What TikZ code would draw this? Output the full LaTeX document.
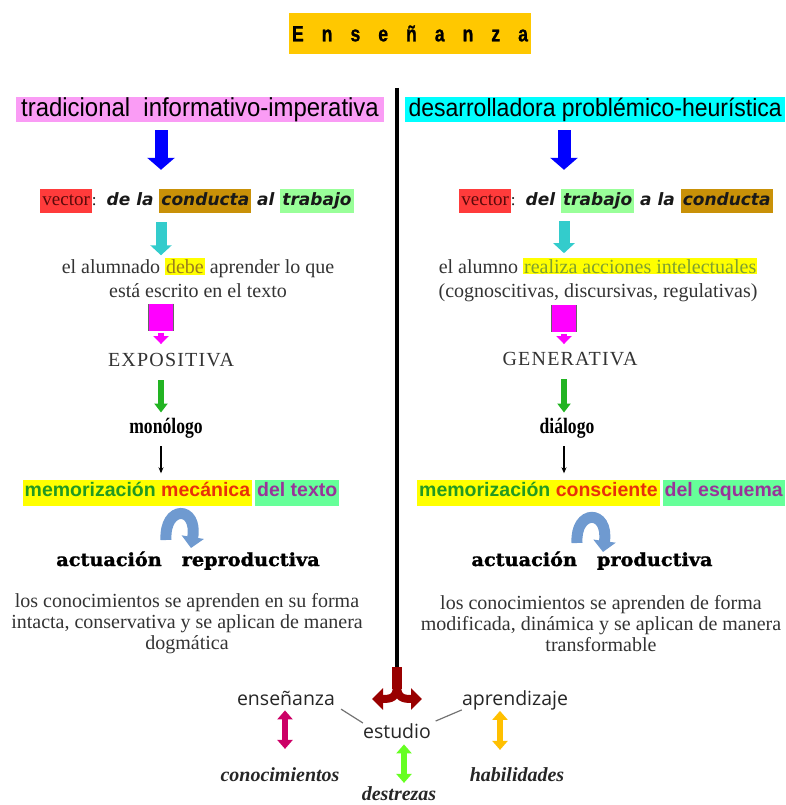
\documentclass[tikz,border=0pt]{standalone}
\usepackage{fontspec}
\setmainfont{Liberation Serif}
\newfontfamily\titulofont[FakeStretch=0.8,FakeBold=1]{Liberation Sans}
\newfontfamily\estrecha[FakeStretch=0.92]{Liberation Sans}
\newfontfamily\arial{Liberation Sans}
\newfontfamily\comica{DejaVu Sans}
\newfontfamily\gruesa[FakeBold=1.5,FakeStretch=1.07]{DejaVu Serif}
\newfontfamily\cartel[FakeStretch=0.8]{Liberation Serif}
\newfontfamily\versal[LetterSpace=6]{Liberation Serif}
\newfontfamily\redonda{Open Sans}
\usetikzlibrary{arrows.meta,positioning,calc}

\definecolor{oro}{HTML}{FFC800}
\definecolor{rosa}{HTML}{FA9CF5}
\definecolor{celeste}{HTML}{00FFFF}
\definecolor{rojo}{HTML}{FF3B3B}
\definecolor{vino}{HTML}{5A0A0A}
\definecolor{ocre}{HTML}{C99108}
\definecolor{verdeclaro}{HTML}{99FF99}
\definecolor{amarillo}{HTML}{FFFF00}
\definecolor{oliva}{HTML}{9B7E1E}
\definecolor{olivaverde}{HTML}{7FA030}
\definecolor{verdeosc}{HTML}{229922}
\definecolor{rojovivo}{HTML}{E8300A}
\definecolor{morado}{HTML}{993399}
\definecolor{verdeagua}{HTML}{66FF99}
\definecolor{azulflecha}{HTML}{0000FF}
\definecolor{turquesa}{HTML}{33CCCC}
\definecolor{fucsia}{HTML}{FF00FF}
\definecolor{verdeflecha}{HTML}{22B422}
\definecolor{acero}{HTML}{6F9AD0}
\definecolor{granate}{HTML}{990000}
\definecolor{carmin}{HTML}{CC0066}
\definecolor{lima}{HTML}{66FF22}
\definecolor{dorado}{HTML}{FFC000}
\definecolor{tinta}{HTML}{333333}

\newcommand{\fsz}[2]{\fontsize{#1}{#2}\selectfont}
\newcommand{\marca}[2]{{\setlength{\fboxsep}{2pt}\colorbox{#1}{\strut #2}}}
\newcommand{\resalto}[2]{{\setlength{\fboxsep}{1pt}\colorbox{#1}{#2}}}
\newcommand{\recto}{\rmfamily\upshape\mdseries}

\tikzset{
  cabecera/.style={inner sep=0pt, minimum height=25pt, font=\estrecha\fsz{26}{28}},
  vectorlinea/.style={inner sep=0pt, font=\comica\bfseries\itshape\fsz{17}{20}, text=black!90},
  cuerpo/.style={inner sep=0pt, align=center, text=tinta, font=\fsz{20}{24}},
  parrafo/.style={cuerpo, font=\fsz{20}{21}},
  modo/.style={inner sep=0pt, anchor=base, text=tinta, font=\versal\fsz{20}{22}},
  dialogo/.style={inner sep=0pt, anchor=base, font=\cartel\bfseries\fsz{22}{24}},
  memoria/.style={inner sep=0pt, font=\arial\bfseries\fsz{19.5}{22}},
  actuacion/.style={inner sep=0pt, anchor=base, font=\gruesa\bfseries\fsz{18}{22}},
  rotulo/.style={inner sep=0pt, anchor=base, text=black!85, font=\redonda\fsz{19.5}{22}},
  saber/.style={inner sep=0pt, anchor=base, text=black!85, font=\bfseries\itshape\fsz{20}{22}},
  azulf/.style={line width=13pt, azulflecha, -{Triangle[width=27pt,length=12pt]}},
  turqf/.style={line width=11pt, turquesa, -{Triangle[width=21pt,length=10pt]}},
  fucsiaf/.style={line width=24pt, fucsia, preaction={draw=black!60, line width=26pt}},
  fucsiapunta/.style={line width=6pt, fucsia, -{Triangle[width=15pt,length=8pt]}},
  verdef/.style={line width=6pt, verdeflecha, -{Triangle[width=13pt,length=9pt]}},
  negraf/.style={line width=1.3pt, black, -{Stealth[width=5pt,length=6pt]}},
  curva/.style={line width=11pt, acero, -{Triangle[width=22pt,length=11pt]}},
  tridente/.style={line width=8pt, granate, -{Triangle[width=21pt,length=11pt]}},
  doble/.style={line width=6pt, {Triangle[width=15pt,length=9pt]}-{Triangle[width=15pt,length=9pt]}},
  enlace/.style={draw=black!55, line width=1.2pt}
}

\begin{document}
\begin{tikzpicture}[x=1pt, y=-1pt]
\useasboundingbox (0,0) rectangle (785,805);

\node[fill=oro, minimum width=242pt, minimum height=41pt, inner sep=0pt] (titulo) at (410,33.5)
  {\titulofont\bfseries\fsz{22}{26}E\hspace{18pt}n\hspace{18pt}s\hspace{18pt}e\hspace{18pt}ñ\hspace{18pt}a\hspace{18pt}n\hspace{18pt}z\hspace{18pt}a};

% divisoria
\coordinate (arriba) at (397,88);
\coordinate (horca) at (397,667);
\draw[line width=4pt] (arriba) -- (horca);

% columnas de flechas
\coordinate (cL) at (161,0);
\coordinate (cR) at (564,0);

% izquierda
\node[cabecera, fill=rosa, minimum width=368pt] (hdrL) at (200,109.5) {tradicional\ \ informativo-imperativa};
\node[vectorlinea] (vecL) at (197,201)
  {\marca{rojo}{\recto\fsz{19}{20}\color{vino}vector}{\recto :}\hspace{10pt}de la \marca{ocre}{conducta} al \marca{verdeclaro}{trabajo}};
\node[cuerpo] (txtL) at (198,278) {el alumnado \resalto{amarillo}{\color{oliva}debe} aprender lo que\\está escrito en el texto};
\node[modo] (modoL) at (171,366.5) {EXPOSITIVA};
\node[dialogo] (dialL) at (166,433) {monólogo};
\node[memoria] (memL) at (181,492.5)
  {\marca{amarillo}{\color{verdeosc}memorización \color{rojovivo}mecánica}\hspace{3pt}\marca{verdeagua}{\color{morado}del texto}};
\node[actuacion] (actL) at (188,566) {actuación\hspace{20pt}reproductiva};
\node[parrafo] (parL) at (187,623.5) {los conocimientos se aprenden en su forma\\intacta, conservativa y se aplican de manera\\dogmática};

% derecha
\node[cabecera, fill=celeste, minimum width=380pt, anchor=west, inner xsep=2pt, font=\estrecha\fsz{25}{28}] (hdrR) at (405,109.5) {desarrolladora problémico-heurística};
\node[vectorlinea] (vecR) at (616,201)
  {\marca{rojo}{\recto\fsz{19}{20}\color{vino}vector}{\recto :}\hspace{10pt}del \marca{verdeclaro}{trabajo} a la \marca{ocre}{conducta}};
\node[cuerpo] (txtR) at (598,280) {el alumno \resalto{amarillo}{\color{olivaverde}realiza acciones intelectuales}\\(cognoscitivas, discursivas, regulativas)};
\node[modo] (modoR) at (570,365.5) {GENERATIVA};
\node[dialogo] (dialR) at (567,433) {diálogo};
\node[memoria] (memR) at (601,492.5)
  {\marca{amarillo}{\color{verdeosc}memorización \color{rojovivo}consciente}\hspace{3pt}\marca{verdeagua}{\color{morado}del esquema}};
\node[actuacion] (actR) at (592,566) {actuación\hspace{20pt}productiva};
\node[parrafo] (parR) at (601,623.5) {los conocimientos se aprenden de forma\\modificada, dinámica y se aplican de manera\\transformable};

% flechas
\draw[azulf, shorten <=8pt, shorten >=19pt] (hdrL.south -| cL) -- (vecL.north -| cL);
\draw[azulf, shorten <=8pt, shorten >=19pt] (hdrR.south -| cR) -- (vecR.north -| cR);
\draw[turqf, shorten <=9pt, shorten >=3pt] (vecL.south -| cL) -- (txtL.north -| cL);
\draw[turqf, shorten <=8pt, shorten >=5pt] (vecR.south -| cR) -- (txtR.north -| cR);
\draw[fucsiaf, shorten <=6pt, shorten >=22pt] (txtL.south -| cL) -- (modoL.north -| cL);
\draw[fucsiapunta, shorten <=35pt, shorten >=9pt] (txtL.south -| cL) -- (modoL.north -| cL);
\draw[fucsiaf, shorten <=3pt, shorten >=20pt] (txtR.south -| cR) -- (modoR.north -| cR);
\draw[fucsiapunta, shorten <=32pt, shorten >=8pt] (txtR.south -| cR) -- (modoR.north -| cR);
\draw[verdef, shorten <=13pt, shorten >=5pt] (modoL.south -| cL) -- (dialL.north -| cL);
\draw[verdef, shorten <=13pt, shorten >=5pt] (modoR.south -| cR) -- (dialR.north -| cR);
\draw[negraf, shorten <=8pt, shorten >=6pt] (dialL.south -| cL) -- (memL.north -| cL);
\draw[negraf, shorten <=8pt, shorten >=6pt] (dialR.south -| cR) -- (memR.north -| cR);
\draw[curva] (166,540) .. controls (164,505) and (198,505) .. (191,548);
\draw[curva] (577,543) .. controls (575,509) and (609,509) .. (603,552);

% estudio
\node[rotulo] (ensen) at (286,705) {enseñanza};
\node[rotulo] (aprend) at (515,705) {aprendizaje};
\node[rotulo] (estudio) at (397,738) {estudio};
\node[saber] (conoc) at (280,781) {conocimientos};
\node[saber] (habil) at (517,781) {habilidades};
\node[saber] (destr) at (399,800) {destrezas};

\draw[line width=10pt, granate] (horca) -- ++(0,22);
\draw[tridente] ($(horca)+(0,18)$) .. controls ($(horca)+(0,31)$) and ($(horca)+(-6,32)$) .. ($(horca)+(-25,32)$);
\draw[tridente] ($(horca)+(0,18)$) .. controls ($(horca)+(0,31)$) and ($(horca)+(6,32)$) .. ($(horca)+(25,32)$);

\draw[enlace, shorten <=7pt] (ensen.south east) -- (estudio.north west);
\draw[enlace, shorten >=5pt] (aprend.south west) -- (estudio.north east);

\coordinate (cE) at (285,0);
\coordinate (cD) at (404,0);
\coordinate (cA) at (500,0);
\draw[doble, carmin, shorten <=5pt, shorten >=18pt] (ensen.south -| cE) -- (conoc.north -| cE);
\draw[doble, lima, shorten <=6pt, shorten >=3pt] (estudio.south -| cD) -- (destr.north -| cD);
\draw[doble, dorado, shorten <=1pt, shorten >=17pt] (aprend.south -| cA) -- (habil.north -| cA);
\end{tikzpicture}
\end{document}
